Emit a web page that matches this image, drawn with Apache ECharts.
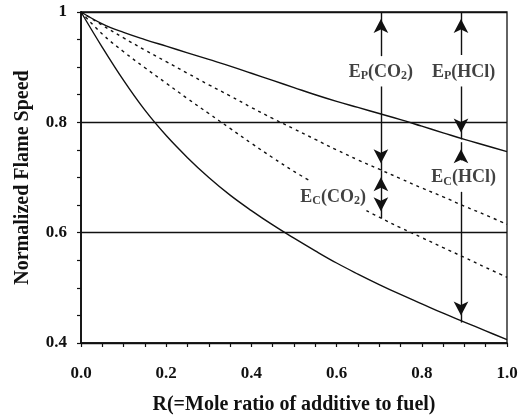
<!DOCTYPE html>
<html>
<head>
<meta charset="utf-8">
<script src="https://cdn.jsdelivr.net/npm/echarts@6/dist/echarts.min.js"></script>
<style>
  html, body { margin: 0; padding: 0; background: #fff; }
  #chart { width: 527px; height: 418px; }
</style>
</head>
<body>
<div id="chart"></div>
<script>
// Mole ratio grid shared by the curves
const rGrid = [0, 0.05, 0.1, 0.15, 0.2, 0.25, 0.3, 0.35, 0.4, 0.45, 0.5,
               0.55, 0.6, 0.65, 0.7, 0.75, 0.8, 0.85, 0.9, 0.95, 1.0];

// Normalized flame speed curves
const topSolid = [1, 0.9785, 0.963, 0.950, 0.938, 0.926, 0.914, 0.902, 0.889, 0.876, 0.863,
                  0.850, 0.838, 0.827, 0.816, 0.805, 0.793, 0.781, 0.769, 0.758, 0.747];
const upperDashed = [1, 0.976, 0.953, 0.931, 0.910, 0.889, 0.868, 0.848, 0.827, 0.807, 0.788,
                     0.769, 0.750, 0.732, 0.715, 0.698, 0.681, 0.665, 0.648, 0.632, 0.615];
const bottomSolid = [1, 0.936, 0.876, 0.822, 0.776, 0.736, 0.700, 0.668, 0.640, 0.614, 0.590,
                     0.567, 0.545, 0.525, 0.506, 0.488, 0.471, 0.454, 0.438, 0.422, 0.406];
// lower dashed curve is interrupted where the E_C(CO2) label sits
const lowerDashedR = [0, 0.05, 0.1, 0.15, 0.2, 0.25, 0.3, 0.35, 0.4, 0.45, 0.5, 0.54,
                      0.6, 0.67, 0.7, 0.75, 0.8, 0.85, 0.9, 0.95, 1.0];
const lowerDashed = [1, 0.960, 0.928, 0.899, 0.871, 0.843, 0.816, 0.789, 0.762, 0.736, 0.711, 0.693,
                     null, 0.640, 0.628, 0.609, 0.591, 0.573, 0.555, 0.537, 0.519];

// Axis ticks
const xTicks = [0, 0.2, 0.4, 0.6, 0.8, 1.0];
const yTicks = [0.4, 0.6, 0.8, 1];

// Annotation arrows: [r, yStart, yEnd, arrowAtStart, arrowAtEnd]
const arrowSegments = [
  [0.704, 1.000, 0.920, true, false],   // E_P(CO2) upper part
  [0.704, 0.865, 0.713, false, true],   // E_P(CO2) lower part
  [0.704, 0.713, 0.626, true, true],    // E_C(CO2)
  [0.892, 1.000, 0.922, true, false],   // E_P(HCl) upper part
  [0.892, 0.865, 0.769, false, true],   // E_P(HCl) lower part
  [0.892, 0.764, 0.731, true, false],   // E_C(HCl) upper part
  [0.892, 0.674, 0.437, false, true]    // E_C(HCl) lower part
];
// Annotation labels: [r, y, rich text]
const annotationLabels = [
  [0.704, 0.891, 'E{s|P}(CO{s|2})'],
  [0.898, 0.891, 'E{s|P}(HCl)'],
  [0.592, 0.664, 'E{s|C}(CO{s|2})'],
  [0.898, 0.700, 'E{s|C}(HCl)']
];

const ink = '#111';
const serif = '"Liberation Serif", "DejaVu Serif", serif';

const zip = (xs, ys) => xs.map((x, i) => [x, ys[i]]);

const curveStyle = (type) => ({
  type: 'line',
  showSymbol: false,
  symbol: 'none',
  smooth: 0.4,
  connectNulls: false,
  lineStyle: { color: ink, width: 1.4, type: type === 'dashed' ? [3, 4] : 'solid' },
  silent: true,
  z: 3
});

const arrowHead = 14;
const markLineData = arrowSegments.map(([r, y0, y1, a0, a1]) => [
  { coord: [r, y0], symbol: a0 ? 'arrow' : 'none' },
  { coord: [r, y1], symbol: a1 ? 'arrow' : 'none' }
]);

const chart = echarts.init(document.getElementById('chart'), null, { renderer: 'canvas' });
chart.setOption({
  animation: false,
  backgroundColor: '#fff',
  grid: {
    left: 81, right: 20, top: 12, bottom: 75,
    outerBoundsMode: 'none',
    containLabel: false,
    show: true, borderColor: ink, borderWidth: 1.3, backgroundColor: 'transparent'
  },
  xAxis: {
    type: 'value', min: 0, max: 1, interval: 0.2,
    name: 'R(=Mole ratio of additive to fuel)',
    nameLocation: 'middle', nameGap: 52,
    nameTextStyle: { fontFamily: serif, fontWeight: 'bold', fontSize: 20, color: ink },
    axisLine: { show: true, lineStyle: { color: ink, width: 1.6 } },
    axisTick: { show: true, inside: false, length: 4, lineStyle: { color: ink, width: 1.2 } },
    minorTick: { show: true, splitNumber: 4, length: 4, lineStyle: { color: ink, width: 1.2 } },
    axisLabel: {
      margin: 22, fontFamily: serif, fontWeight: 'bold', fontSize: 17, color: ink,
      formatter: v => xTicks.some(t => Math.abs(t - v) < 1e-9) ? v.toFixed(1) : ''
    },
    splitLine: { show: false }
  },
  yAxis: {
    type: 'value', min: 0.4, max: 1, interval: 0.2,
    name: 'Normalized Flame Speed',
    nameLocation: 'middle', nameGap: 48, nameRotate: 90,
    nameTextStyle: { fontFamily: serif, fontWeight: 'bold', fontSize: 20, color: ink },
    axisLine: { show: true, lineStyle: { color: ink, width: 1.8 } },
    axisTick: { show: true, inside: false, length: 4, lineStyle: { color: ink, width: 1.2 } },
    minorTick: { show: true, splitNumber: 4, length: 4, lineStyle: { color: ink, width: 1.2 } },
    axisLabel: {
      margin: 14, fontFamily: serif, fontWeight: 'bold', fontSize: 17, color: ink,
      formatter: v => yTicks.some(t => Math.abs(t - v) < 1e-9) ? String(+v.toFixed(1)) : ''
    },
    splitLine: { show: true, lineStyle: { color: ink, width: 1.3 } }
  },
  series: [
    Object.assign(curveStyle('solid'), { name: 'top', data: zip(rGrid, topSolid) }),
    Object.assign(curveStyle('dashed'), { name: 'upperDashed', data: zip(rGrid, upperDashed) }),
    Object.assign(curveStyle('dashed'), { name: 'lowerDashed', data: zip(lowerDashedR, lowerDashed) }),
    Object.assign(curveStyle('solid'), { name: 'bottom', data: zip(rGrid, bottomSolid) }),
    {
      name: 'annotations',
      type: 'scatter',
      symbolSize: 0,
      silent: true,
      z: 5,
      data: annotationLabels.map(([r, y, text]) => ({ value: [r, y], text })),
      label: {
        show: true,
        position: 'inside',
        formatter: p => p.data.text,
        fontFamily: serif, fontWeight: 'bold', fontSize: 18, color: ink, lineHeight: 20,
        rich: {
          s: { fontFamily: serif, fontWeight: 'bold', fontSize: 12, color: ink,
               lineHeight: 12, verticalAlign: 'bottom' }
        }
      },
      markLine: {
        silent: true,
        animation: false,
        symbolSize: [11, arrowHead],
        symbolOffset: [[0, arrowHead / 2], [0, arrowHead / 2]],
        label: { show: false },
        lineStyle: { color: ink, width: 1.4, type: 'solid' },
        itemStyle: { color: ink },
        emphasis: { disabled: true },
        data: markLineData
      }
    }
  ]
});
</script>
</body>
</html>
